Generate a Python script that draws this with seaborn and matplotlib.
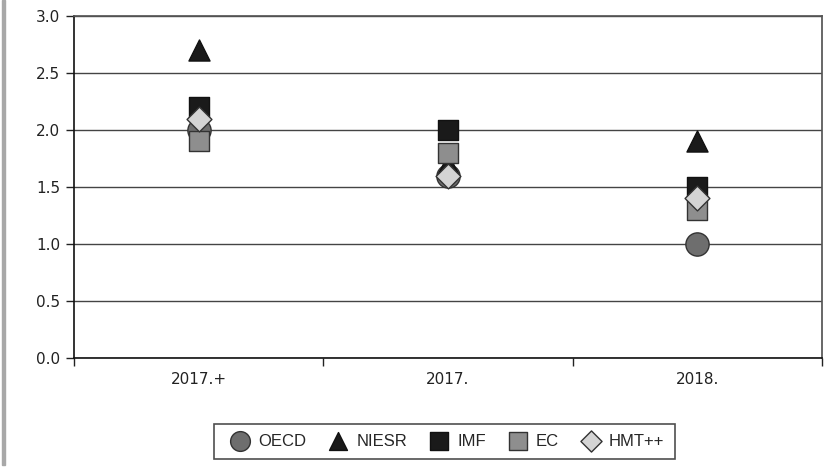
import pandas as pd
import matplotlib.pyplot as plt
import matplotlib.patches as mpatches
from matplotlib.ticker import FixedLocator, NullFormatter
import seaborn as sns

periods = ["2017.+", "2017.", "2018."]
oecd = [2.0, 1.6, 1.0]
niesr = [2.7, 1.7, 1.9]
imf = [2.2, 2.0, 1.5]
ec = [1.9, 1.8, 1.3]
hmt = [2.1, 1.6, 1.4]
series = ["OECD", "NIESR", "IMF", "EC", "HMT++"]

df = pd.DataFrame({
    "period": periods * 5,
    "source": [s for s in series for _ in periods],
    "value": oecd + niesr + imf + ec + hmt,
})

sns.set_theme(style="white")
plt.rcParams["font.family"] = ["DejaVu Sans"]

fig = plt.figure(figsize=(8.34, 4.76), dpi=100)
ax = fig.add_axes([74 / 834, 1 - 358 / 476, 748 / 834, 342 / 476])

markers = {"OECD": "o", "NIESR": "^", "IMF": "s", "EC": "s", "HMT++": "D"}
palette = {"OECD": "#6e6e6e", "NIESR": "#1a1a1a", "IMF": "#1a1a1a",
           "EC": "#8e8e8e", "HMT++": "#d4d4d4"}
edges = {"OECD": "#333333", "NIESR": "#111111", "IMF": "#111111",
         "EC": "#333333", "HMT++": "#333333"}
sizes = {"OECD": 280, "NIESR": 230, "IMF": 210, "EC": 210, "HMT++": 160}

for s in series:
    sub = df[df["source"] == s]
    sns.scatterplot(data=sub, x="period", y="value", marker=markers[s],
                    color=palette[s], s=sizes[s], edgecolor=edges[s],
                    linewidth=1.0, ax=ax, label=s, zorder=3)

ax.set_xlim(-0.5, 2.5)
ax.set_ylim(0, 3.0)
ax.set_yticks([0, 0.5, 1.0, 1.5, 2.0, 2.5, 3.0])
ax.set_yticklabels(["0.0", "0.5", "1.0", "1.5", "2.0", "2.5", "3.0"])
ax.xaxis.set_major_locator(FixedLocator([-0.5, 0.5, 1.5, 2.5]))
ax.xaxis.set_major_formatter(NullFormatter())
ax.xaxis.set_minor_locator(FixedLocator([0, 1, 2]))
ax.set_xticklabels(periods, minor=True)
ax.tick_params(axis="x", which="major", direction="out", length=6, width=1, color="#222222", bottom=True)
ax.tick_params(axis="x", which="minor", length=0, pad=10, labelsize=11, colors="#222222")
ax.tick_params(axis="y", direction="out", length=6, width=1, color="#222222", left=True,
               labelsize=11, labelcolor="#222222", pad=4)
ax.set_xlabel("")
ax.set_ylabel("")
ax.yaxis.grid(True, color="#444444", linewidth=1.0)
ax.set_axisbelow(True)
for side in ["left", "bottom"]:
    ax.spines[side].set_color("#111111")
    ax.spines[side].set_linewidth(1.2)
ax.spines["right"].set_color("#555555")
ax.spines["top"].set_color("#555555")

ax.get_legend().remove()
handles, labels = ax.get_legend_handles_labels()
leg = fig.legend(handles, labels, loc="center", bbox_to_anchor=(444 / 834, 1 - 441 / 476),
                 ncol=5, frameon=True, fancybox=False, edgecolor="#222222",
                 handletextpad=0.1, columnspacing=0.9, borderpad=0.6,
                 markerscale=0.85, prop={"family": "Liberation Sans", "size": 12})
leg.get_frame().set_linewidth(1.2)

fig.patches.append(mpatches.Rectangle((2 / 834, 1 - 465 / 476), 3 / 834, 465 / 476,
                                      transform=fig.transFigure, color="#a8a8a8"))

fig.savefig("out.png", dpi=100)
